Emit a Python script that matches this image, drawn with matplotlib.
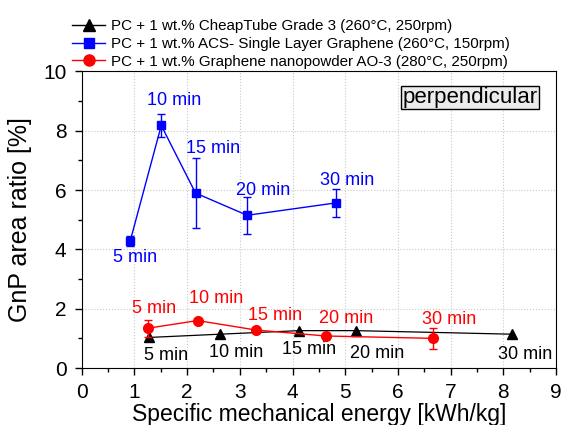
import matplotlib
matplotlib.use("Agg")
import matplotlib.pyplot as plt
from matplotlib.lines import Line2D
from matplotlib.ticker import MultipleLocator

plt.rcParams['font.family'] = ['Liberation Sans', 'DejaVu Sans']

labels_min = ["5 min", "10 min", "15 min", "20 min", "30 min"]

# CheapTube Grade 3 (260°C, 250rpm)
sme_cheap = [1.27, 2.62, 4.12, 5.21, 8.17]
ratio_cheap = [1.03, 1.14, 1.26, 1.26, 1.14]

# ACS single layer graphene (260°C, 150rpm)
sme_acs = [0.92, 1.51, 2.16, 3.14, 4.83]
ratio_acs = [4.28, 8.18, 5.90, 5.15, 5.57]
err_acs = [0.18, 0.40, 1.18, 0.62, 0.48]

# Graphene nanopowder AO-3 (280°C, 250rpm)
sme_ao3 = [1.25, 2.20, 3.31, 4.63, 6.66]
ratio_ao3 = [1.34, 1.60, 1.28, 1.08, 1.00]
err_ao3 = [0.28, 0.06, 0.06, 0.08, 0.36]

legend_names = ['PC + 1 wt.% CheapTube Grade 3 (260°C, 250rpm)',
                'PC + 1 wt.% ACS- Single Layer Graphene (260°C, 150rpm)',
                'PC + 1 wt.% Graphene nanopowder AO-3 (280°C, 250rpm)']

# label offsets in pixels (dx, dy)
off_cheap = [(17, -18), (16, -18), (10, -19), (21, -23), (13, -20)]
off_acs = [(5, -16), (13, 25), (18, 45), (16, 25), (11, 22)]
off_ao3 = [(6, 20), (18, 22), (19, 15), (20, 17), (16, 19)]

fig = plt.figure(figsize=(5.63, 4.25), dpi=100)
ax = fig.add_axes([0.1451, 0.1341, 0.8425, 0.6977])

ax.plot(sme_cheap, ratio_cheap, color='black', marker='^', markersize=7,
        linewidth=0.9, zorder=3)
ax.errorbar(sme_acs, ratio_acs, yerr=err_acs, color='blue', marker='s', markersize=6,
            linewidth=1.0, elinewidth=1.0, capsize=3, zorder=3)
ax.errorbar(sme_ao3, ratio_ao3, yerr=err_ao3, color='red', marker='o', markersize=7,
            linewidth=1.0, elinewidth=1.0, capsize=3, zorder=3)

for xs, ys, offs, col in [(sme_cheap, ratio_cheap, off_cheap, 'black'),
                          (sme_acs, ratio_acs, off_acs, 'blue'),
                          (sme_ao3, ratio_ao3, off_ao3, 'red')]:
    for x, y, lab, (dx, dy) in zip(xs, ys, labels_min, offs):
        ax.annotate(lab, (x, y), xytext=(dx, dy), textcoords='offset pixels',
                    ha='center', va='center', color=col, fontsize=13)

ax.set_xlim(0, 9)
ax.set_ylim(0, 10)
ax.xaxis.set_major_locator(MultipleLocator(1))
ax.xaxis.set_minor_locator(MultipleLocator(0.5))
ax.yaxis.set_major_locator(MultipleLocator(2))
ax.yaxis.set_minor_locator(MultipleLocator(1))
ax.tick_params(which='major', direction='out', length=5, width=1, labelsize=15, pad=6)
ax.tick_params(which='minor', direction='out', length=3, width=1)
ax.grid(True, which='major', linestyle=':', color='#c8c8c8', linewidth=0.8)
ax.set_axisbelow(True)

ax.set_xlabel('Specific mechanical energy [kWh/kg]', fontsize=16.5, labelpad=0.5)
ax.set_ylabel('GnP area ratio [%]', fontsize=18, labelpad=8)

ax.text(0.819, 0.911, 'perpendicular', transform=ax.transAxes, fontsize=16,
        ha='center', va='center',
        bbox=dict(boxstyle='square,pad=0.05', facecolor='#ececec', edgecolor='black', linewidth=1))

handles = [Line2D([], [], color='black', marker='^', markersize=8, linewidth=1.0),
           Line2D([], [], color='blue', marker='s', markersize=7, linewidth=1.0),
           Line2D([], [], color='red', marker='o', markersize=8, linewidth=1.0)]
fig.legend(handles, legend_names, loc='upper left', bbox_to_anchor=(0.128, 0.955),
           frameon=False, fontsize=10.9, borderpad=0, borderaxespad=0,
           labelspacing=0.25, handlelength=2.2, handletextpad=0.35)

fig.savefig('out.png', dpi=100)
